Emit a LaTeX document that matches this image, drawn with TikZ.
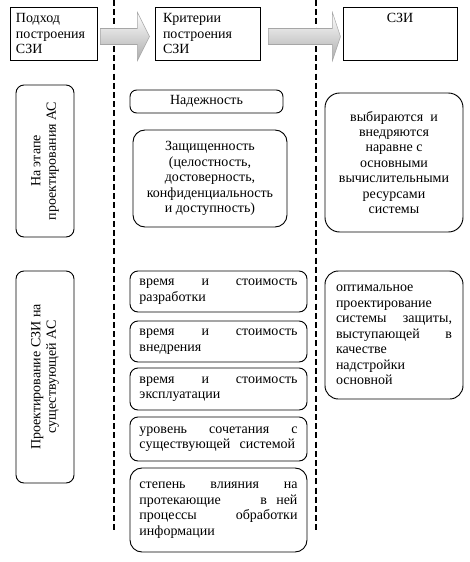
\documentclass[tikz,border=0pt]{standalone}
\usepackage{fontspec}
\setmainfont{Liberation Serif}
\usetikzlibrary{calc}
\newcommand{\fsz}{\fontsize{10.5}{11.6}\selectfont}
\begin{document}
\begin{tikzpicture}[x=0.75pt,y=-0.75pt,
  box/.style={draw, line width=0.7pt, inner sep=0pt, font=\fsz, fill=white},
  rbox/.style={box, rounded corners=6pt},
  sep/.style={line width=1.6pt, dash pattern=on 4.5pt off 2.4pt},
  flow/.style={draw=gray!70, line width=0.4pt, top color=white, bottom color=gray!65}]
\useasboundingbox (0,0) rectangle (470,562);
% separators
\coordinate (d1t) at (114,0); \coordinate (d1b) at (114,532);
\coordinate (d2t) at (316,0); \coordinate (d2b) at (316,530);
\draw[sep] (d1t) -- (d1b);
\draw[sep] (d2t) -- (d2b);
% top row
\node[box, minimum width=87*0.75pt, minimum height=53*0.75pt, text width=75*0.75pt, align=left] (tb1) at (53.5,33.5) {Подход\\построения\\СЗИ};
\node[box, minimum width=105*0.75pt, minimum height=53*0.75pt, text width=89*0.75pt, align=left] (tb2) at (207.5,33.5) {Критерии\\построения\\СЗИ};
\node[box, minimum width=114*0.75pt, minimum height=53*0.75pt, text width=100*0.75pt, align=center] (tb3) at (400,33.5) {СЗИ\\\mbox{}\\\mbox{}};
% arrows
\path[flow] ($(tb1.east)+(3,-5)$) -- ++(37,0) -- ++(0,-16) -- ++(12,24) -- ++(-12,24) -- ++(0,-16) -- ++(-37,0) -- cycle;
\path[flow] ($(tb2.east)+(8,-5)$) -- ++(64,0) -- ++(0,-16) -- ++(8,24) -- ++(-8,24) -- ++(0,-16) -- ++(-64,0) -- cycle;
% row 1
\node[rbox, rotate=90, minimum width=152*0.75pt, minimum height=58*0.75pt, align=center] (l1) at (45,161) {На этапе\\проектирования АС};
\node[rbox, minimum width=153*0.75pt, minimum height=23*0.75pt, rounded corners=5pt] (m1) at (206.5,101.5) {Надежность};
\node[rbox, minimum width=154*0.75pt, minimum height=97*0.75pt, align=center, rounded corners=9pt] (m2) at (210,178.5) {Защищенность\\(целостность,\\достоверность,\\конфиденциальность\\и доступность)};
\node[rbox, minimum width=138*0.75pt, minimum height=139*0.75pt, align=center, rounded corners=11pt] (r1) at (394,162.5) {выбираются\ \ и\\внедряются\\наравне с\\основными\\вычислительными\\ресурсами\\системы};
% row 2
\node[rbox, rotate=90, minimum width=212*0.75pt, minimum height=58*0.75pt, align=center] (l2) at (45,377) {Проектирование СЗИ на\\существующей АС};
\tikzset{mid/.style={rbox, minimum width=177*0.75pt, text width=158*0.75pt, align=left}}
\node[mid, minimum height=41*0.75pt] (b1) at (218.5,291.5) {время\hfill и\hfill стоимость\\разработки};
\node[mid, minimum height=41*0.75pt] (b2) at (218.5,341.5) {время\hfill и\hfill стоимость\\внедрения};
\node[mid, minimum height=42*0.75pt] (b3) at (218.5,389) {время\hfill и\hfill стоимость\\эксплуатации};
\node[mid, minimum height=44*0.75pt] (b4) at (218.5,439) {уровень\hfill сочетания\hfill с\\существующей\ \ системой};
\node[mid, minimum height=84*0.75pt, rounded corners=9pt] (b5) at (218.5,510) {степень\hfill влияния\hfill на\\протекающие\hfill в\ \ ней\\процессы\hfill обработки\\информации};
\node[rbox, minimum width=138*0.75pt, minimum height=128*0.75pt, text width=116*0.75pt, align=left, rounded corners=10pt] (r2) at (394,335) {оптимальное\\проектирование\\системы\hfill защиты,\\выступающей\hfill в\\качестве\\надстройки\\основной};
\end{tikzpicture}
\end{document}
